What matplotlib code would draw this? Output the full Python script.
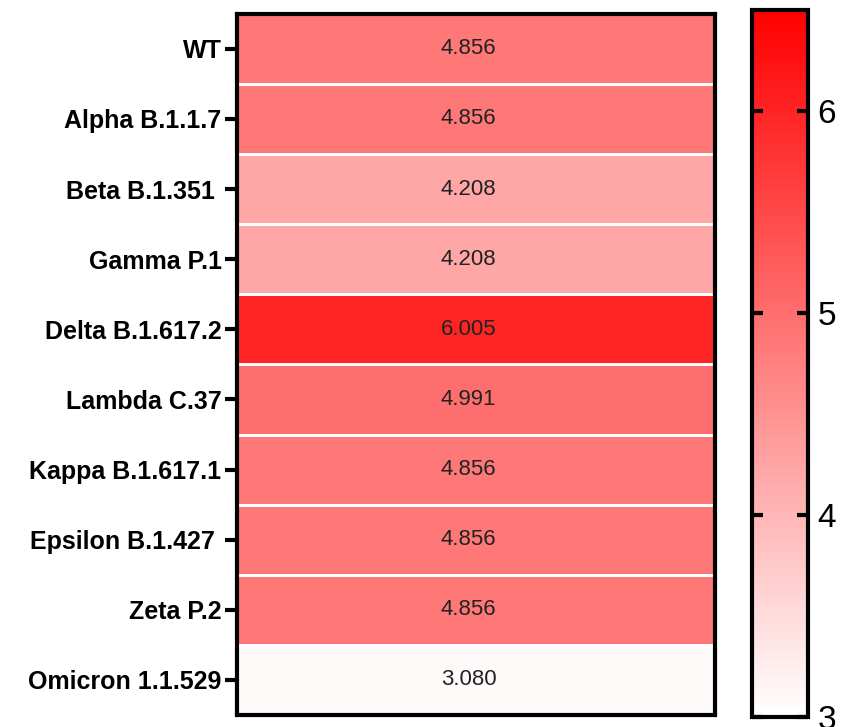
import numpy as np
import matplotlib
matplotlib.use("Agg")
from matplotlib import pyplot as plt
from matplotlib.colors import LinearSegmentedColormap

variants = ['WT', 'Alpha B.1.1.7', 'Beta B.1.351 ', 'Gamma P.1', 'Delta B.1.617.2',
            'Lambda C.37', 'Kappa B.1.617.1', 'Epsilon B.1.427 ', 'Zeta P.2', 'Omicron 1.1.529']
values = [4.856, 4.856, 4.208, 4.208, 6.005, 4.991, 4.856, 4.856, 4.856, 3.080]
cbar_ticks = [3, 4, 5, 6]

plt.rcParams['font.family'] = ['Liberation Sans', 'DejaVu Sans']

cmap = LinearSegmentedColormap.from_list('wr', ['#ffffff', '#ff0000'])
vmin, vmax = 3, 6.5

fig = plt.figure(figsize=(8.43, 7.27), dpi=100)
ax = fig.add_axes([0.281, 0.0165, 0.567, 0.9645])
cax = fig.add_axes([0.892, 0.014, 0.066, 0.972])

data = np.array(values).reshape(-1, 1)
im = ax.pcolormesh(data, cmap=cmap, vmin=vmin, vmax=vmax, edgecolors='white', linewidth=2)
ax.set_ylim(len(values), 0)
ax.set_xlim(0, 1)

for i, v in enumerate(values):
    ax.text(0.485, i + 0.5, f'{v:.3f}', ha='center', va='center', fontsize=16, color='#222222')

ax.set_xticks([])
ax.set_yticks(np.arange(len(variants)) + 0.5)
ax.set_yticklabels(variants, fontweight='bold', fontsize=18)
ax.tick_params(axis='y', length=9, width=3, pad=2)
for s in ax.spines.values():
    s.set_linewidth(3)

# colorbar
cb = fig.colorbar(im, cax=cax)
cb.set_ticks(cbar_ticks)
cb.outline.set_linewidth(3)
cax.tick_params(axis='y', direction='in', length=8, width=3, labelsize=24, pad=7,
                left=True, right=True)
cax.set_ylim(vmin, vmax)

fig.savefig('out.png', dpi=100)
